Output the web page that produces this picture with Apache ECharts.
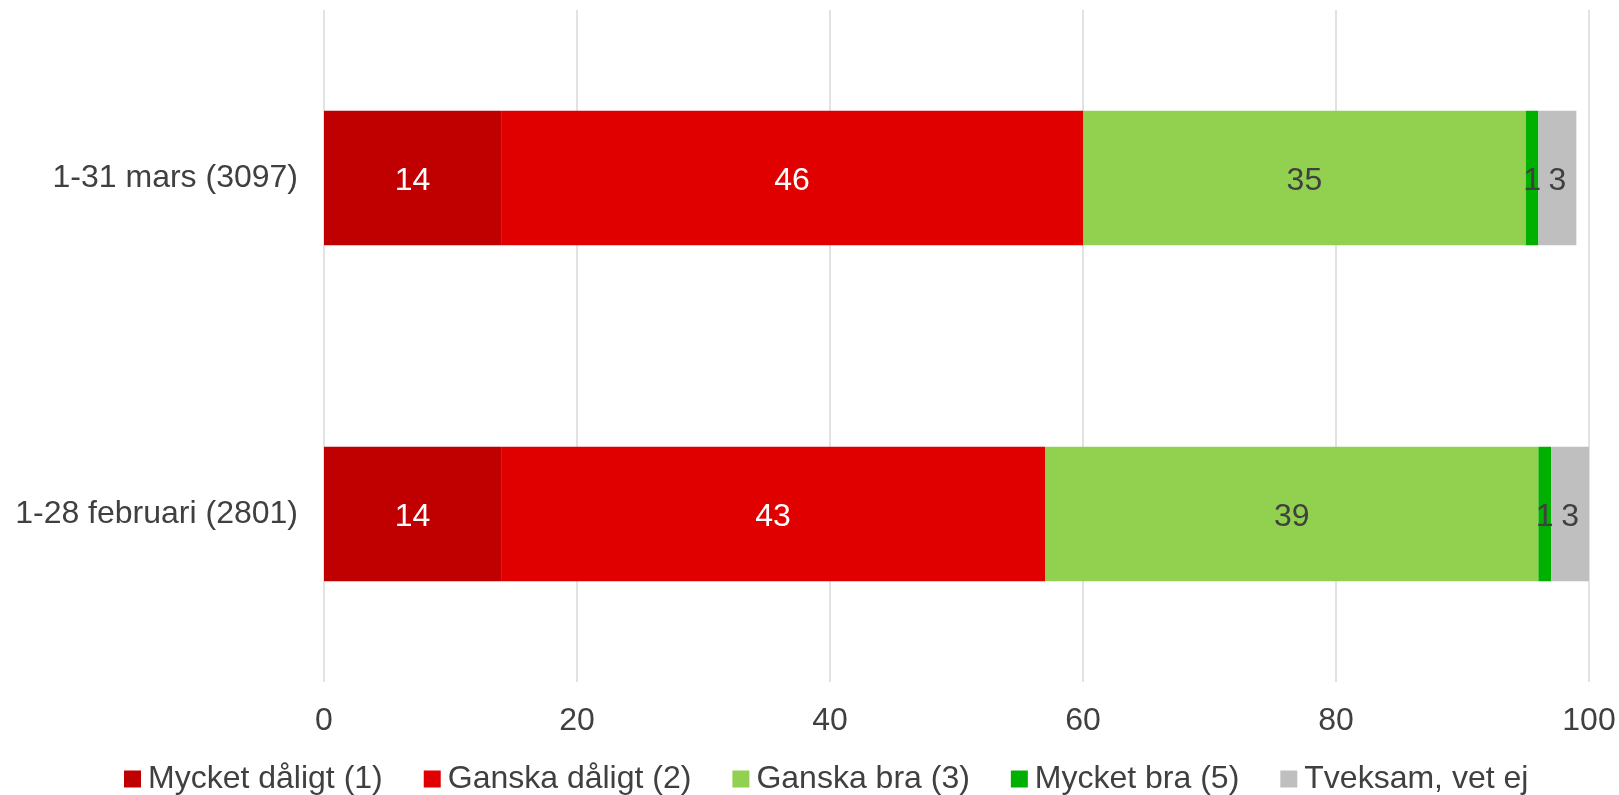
<!DOCTYPE html>
<html><head><meta charset="utf-8">
<script src="https://cdn.jsdelivr.net/npm/echarts@6/dist/echarts.min.js"></script>
<style>html,body{margin:0;padding:0;background:#fff}#c{width:1619px;height:795px}</style>
</head><body><div id="c"></div>
<script>
var categories = ['1-28 februari (2801)', '1-31 mars (3097)'];
var seriesNames = ['Mycket dåligt (1)', 'Ganska dåligt (2)', 'Ganska bra (3)', 'Mycket bra (5)', 'Tveksam, vet ej'];
var mycketDaligt = [14, 14];
var ganskaDaligt = [43, 46];
var ganskaBra = [39, 35];
var mycketBra = [1, 1];
var tveksam = [3, 3];
var xTicks = [0, 20, 40, 60, 80, 100];

var values = [mycketDaligt, ganskaDaligt, ganskaBra, mycketBra, tveksam];
var colors = ['#C00000', '#E00000', '#92D050', '#00B000', '#BFBFBF'];
var labelColors = ['#ffffff', '#ffffff', '#404040', '#404040', '#404040'];
var font = 'Liberation Sans, Arial, sans-serif';

var chart = echarts.init(document.getElementById('c'));
chart.setOption({
  animation: false,
  grid: { left: 324, right: 30, top: 10, bottom: 113 },
  legend: {
    top: 758, left: 119, itemWidth: 17, itemHeight: 17, itemGap: 41,
    icon: 'rect',
    textStyle: { fontSize: 32, color: '#404040', fontFamily: font, padding: [0, 0, 0, 2] },
    data: seriesNames
  },
  xAxis: {
    type: 'value', min: 0, max: 100, interval: 20,
    axisLine: { show: false }, axisTick: { show: false },
    splitLine: { lineStyle: { color: '#d9d9d9', width: 1.5 } },
    axisLabel: { fontSize: 32, color: '#404040', fontFamily: font, margin: 23,
      formatter: function (v) { return xTicks.indexOf(v) >= 0 ? String(v) : ''; } }
  },
  yAxis: {
    type: 'category', data: categories,
    axisLine: { show: false }, axisTick: { show: false },
    axisLabel: { fontSize: 32, color: '#404040', fontFamily: font, margin: 26, padding: [6, 0, 0, 0] }
  },
  series: seriesNames.map(function (n, i) {
    return {
      name: n, type: 'bar', stack: 'total', data: values[i], barWidth: '40%',
      itemStyle: { color: colors[i] },
      label: { show: true, position: 'inside', offset: [0, 3], color: labelColors[i], fontSize: 32, fontFamily: font }
    };
  })
});
</script></body></html>
